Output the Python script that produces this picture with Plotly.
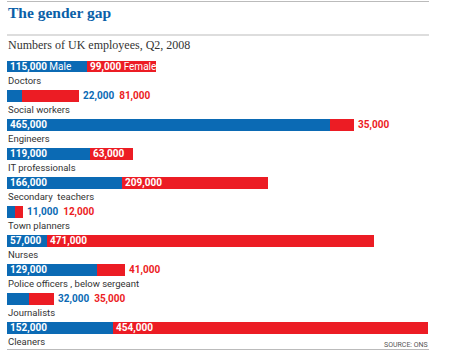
import plotly.graph_objects as go

categories = ["Doctors", "Social workers", "Engineers", "IT professionals",
              "Secondary  teachers", "Town planners", "Nurses",
              "Police officers , below sergeant", "Journalists", "Cleaners"]
male = [115000, 22000, 465000, 119000, 166000, 11000, 57000, 129000, 32000, 152000]
female = [99000, 81000, 35000, 63000, 209000, 12000, 471000, 41000, 35000, 454000]

BLUE = "#0b6ab4"
RED = "#ec1c24"
W, H = 460, 352
NUM_FONT = "Roboto"

idx = list(range(len(categories)))
fig = go.Figure()
fig.add_trace(go.Bar(y=idx, x=male, orientation="h", marker=dict(color=BLUE, line_width=0),
                     width=0.41, hoverinfo="skip"))
fig.add_trace(go.Bar(y=idx, x=female, orientation="h", marker=dict(color=RED, line_width=0),
                     width=0.41, hoverinfo="skip"))

ann = []
def fmt(v):
    return f"{v:,}"

TH = 50000
for i, (c, m, f) in enumerate(zip(categories, male, female)):
    sm = " Male" if i == 0 else ""
    sf = " Female" if i == 0 else ""
    total = m + f
    ann.append(dict(x=0, y=i, xref="x", yref="y", text=c.replace("  ", "\u00a0 "),
                    showarrow=False, xanchor="left", yanchor="middle", yshift=-13.5, xshift=-1,
                    font=dict(family=NUM_FONT, size=9.5, color="#333")))
    if m >= TH:
        ann.append(dict(x=0, y=i, xref="x", yref="y", text=f"<b>{fmt(m)}</b>{sm}",
                        showarrow=False, xanchor="left", yanchor="middle", xshift=1,
                        font=dict(family=NUM_FONT, size=10, color="white")))
        if f >= TH:
            ann.append(dict(x=m, y=i, xref="x", yref="y", text=f"<b>{fmt(f)}</b>{sf}",
                            showarrow=False, xanchor="left", yanchor="middle", xshift=1,
                            font=dict(family=NUM_FONT, size=10, color="white")))
        else:
            ann.append(dict(x=total, y=i, xref="x", yref="y", text=f"<b>{fmt(f)}</b>",
                            showarrow=False, xanchor="left", yanchor="middle", xshift=2,
                            font=dict(family=NUM_FONT, size=10, color=RED)))
    else:
        txt = (f"<b><span style='color:{BLUE}'>{fmt(m)}</span>\u00a0\u00a0"
               f"<span style='color:{RED}'>{fmt(f)}</span></b>")
        ann.append(dict(x=total, y=i, xref="x", yref="y", text=txt,
                        showarrow=False, xanchor="left", yanchor="middle", xshift=2,
                        font=dict(family=NUM_FONT, size=10, color=BLUE)))

def py(p):
    return 1 - p / H

ann.append(dict(x=7 / W, y=py(12.5), xref="paper", yref="paper", text="<b>The gender gap</b>",
                showarrow=False, xanchor="left", yanchor="middle", xshift=-1,
                font=dict(family="Liberation Serif, DejaVu Serif", size=15.5, color="#0a5fa8")))
ann.append(dict(x=7 / W, y=py(44.5), xref="paper", yref="paper",
                text="Numbers of UK employees, Q2, 2008",
                showarrow=False, xanchor="left", yanchor="middle", xshift=-1,
                font=dict(family="Liberation Serif, DejaVu Serif", size=12, color="#333")))
ann.append(dict(x=429 / W, y=py(345), xref="paper", yref="paper", text="SOURCE: ONS",
                showarrow=False, xanchor="right", yanchor="middle", xshift=1,
                font=dict(family=NUM_FONT, size=7, color="#555")))

shapes = []
for yy in (1.5, 35, 349.5):
    shapes.append(dict(type="line", xref="paper", yref="paper", x0=7 / W, x1=429 / W,
                       y0=py(yy), y1=py(yy), line=dict(color="#bbbbbb", width=1)))

row0, step = 66.5, 29.1
fig.update_layout(
    width=W, height=H, margin=dict(l=0, r=0, t=0, b=0),
    paper_bgcolor="white", plot_bgcolor="white", barmode="stack", bargap=0,
    showlegend=False, annotations=ann, shapes=shapes,
    xaxis=dict(domain=[7 / W, 428 / W], range=[0, 606000], visible=False, fixedrange=True),
    yaxis=dict(domain=[0, 1], range=[(H - row0) / step, -row0 / step], visible=False,
               fixedrange=True),
)
fig.write_html("out.html", config={"displayModeBar": False})
